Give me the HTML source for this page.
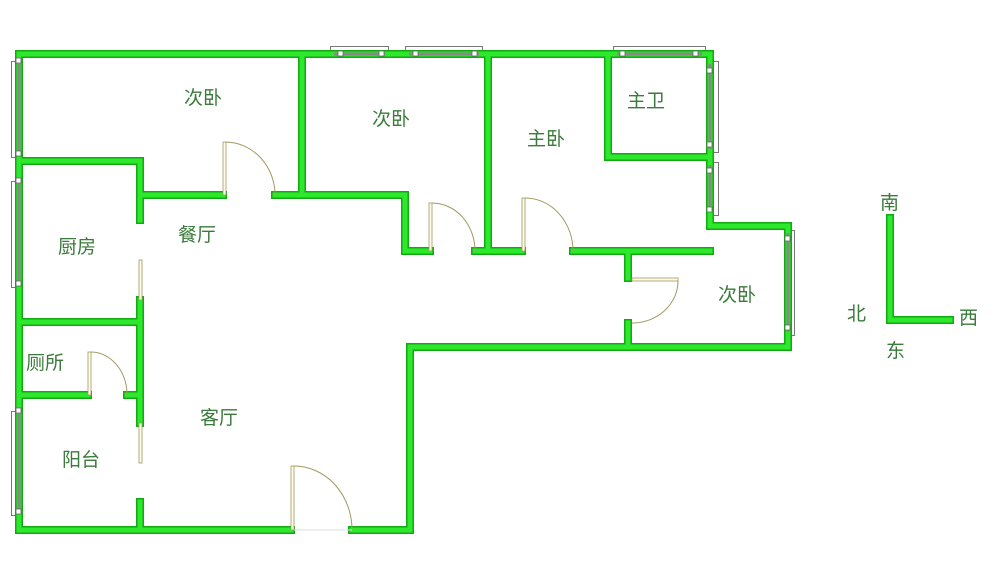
<!DOCTYPE html>
<html><head><meta charset="utf-8"><style>
html,body{margin:0;padding:0;background:#fff;}
svg{display:block;}
text{font-family:"Liberation Sans","Noto Sans CJK SC",sans-serif;font-size:19px;fill:#3a7a3a;}
</style></head><body>
<svg width="1000" height="562" viewBox="0 0 1000 562" xmlns="http://www.w3.org/2000/svg">
<g fill="none" stroke="#777" stroke-width="1">
<rect x="11.5" y="61.5" width="6" height="96"/>
<rect x="11.5" y="181.5" width="6" height="106"/>
<rect x="11.5" y="411.5" width="6" height="104"/>
<rect x="330.5" y="46.5" width="58" height="7"/>
<rect x="405.5" y="46.5" width="77" height="7"/>
<rect x="613.5" y="46.5" width="92" height="7"/>
<rect x="712.5" y="61.5" width="6" height="91"/>
<rect x="712.5" y="162.5" width="6" height="53"/>
<rect x="788.5" y="230.5" width="6" height="105"/>
</g>
<path d="M19,54 H710 V226 H788 V347 H410 V530 H352 M291,530 H19 V54
M302,54 V195 M140,161 V220 M140,161 H19 M140,195 H223 M275,195 H405 V251 H430 M475,251 H522 M488,54 V251 M573,251 H710
M608,54 V157 H710 M628,251 V278 M628,323 V347
M19,322 H140 M140,300 V423 M19,395 H88 M127,395 H140 M140,502 V530
M890,218 V320 H950" stroke="#1a1" stroke-width="8" fill="none" stroke-linecap="square"/>
<path d="M19,54 H710 V226 H788 V347 H410 V530 H352 M291,530 H19 V54
M302,54 V195 M140,161 V220 M140,161 H19 M140,195 H223 M275,195 H405 V251 H430 M475,251 H522 M488,54 V251 M573,251 H710
M608,54 V157 H710 M628,251 V278 M628,323 V347
M19,322 H140 M140,300 V423 M19,395 H88 M127,395 H140 M140,502 V530
M890,218 V320 H950" stroke="#2de82d" stroke-width="5" fill="none" stroke-linecap="square"/>
<g stroke="#888" stroke-width="3">
<line x1="19" y1="64" x2="19" y2="154"/>
<line x1="19" y1="184" x2="19" y2="284"/>
<line x1="19" y1="414" x2="19" y2="512"/>
<line x1="334" y1="54" x2="385" y2="54"/>
<line x1="409" y1="54" x2="479" y2="54"/>
<line x1="617" y1="54" x2="702" y2="54"/>
<line x1="710" y1="64" x2="710" y2="149"/>
<line x1="710" y1="165" x2="710" y2="212"/>
<line x1="788" y1="233" x2="788" y2="332"/>
</g>
<g fill="#fff" stroke="#666" stroke-width="0.8">
<rect x="16" y="58" width="5" height="5"/><rect x="16" y="151" width="5" height="5"/>
<rect x="16" y="178" width="5" height="5"/><rect x="16" y="281" width="5" height="5"/>
<rect x="16" y="408" width="5" height="5"/><rect x="16" y="509" width="5" height="5"/>
<rect x="338" y="51" width="5" height="5"/><rect x="379" y="51" width="5" height="5"/>
<rect x="413" y="51" width="5" height="5"/><rect x="472" y="51" width="5" height="5"/>
<rect x="620" y="51" width="5" height="5"/><rect x="693" y="51" width="5" height="5"/>
<rect x="707" y="68" width="5" height="5"/><rect x="707" y="142" width="5" height="5"/>
<rect x="707" y="168" width="5" height="5"/><rect x="707" y="207" width="5" height="5"/>
<rect x="785" y="236" width="5" height="5"/><rect x="785" y="325" width="5" height="5"/>
</g>
<g fill="#fffbe8" stroke="#a09a60" stroke-width="0.8">
<rect x="223" y="142" width="3" height="53"/>
<rect x="429" y="203" width="3" height="48"/>
<rect x="522" y="198" width="3" height="53"/>
<rect x="632" y="278" width="46" height="3"/>
<rect x="88" y="352" width="3" height="43"/>
<rect x="291" y="466" width="3" height="64"/>
<rect x="139" y="260" width="3" height="40"/>
<rect x="139" y="423" width="3" height="40"/>
</g>
<g fill="none" stroke="#a09a60" stroke-width="1">
<path d="M226,142 A50,53 0 0 1 275,195"/>
<path d="M432,203 A43,48 0 0 1 475,251"/>
<path d="M525,198 A48,53 0 0 1 573,251"/>
<path d="M678,281 A46,42 0 0 1 632,323"/>
<path d="M91,352 A36,43 0 0 1 127,395"/>
<path d="M294,466 A58,64 0 0 1 352,530"/>
<line x1="294" y1="530" x2="352" y2="530" stroke="#ddd"/>
</g>
<text x="184" y="104">次卧</text>
<text x="372" y="125">次卧</text>
<text x="527" y="145">主卧</text>
<text x="627" y="107">主卫</text>
<text x="718" y="301">次卧</text>
<text x="178" y="241">餐厅</text>
<text x="58" y="253">厨房</text>
<text x="26" y="369">厕所</text>
<text x="200" y="424">客厅</text>
<text x="62" y="466">阳台</text>
<text x="880" y="209">南</text>
<text x="847" y="320">北</text>
<text x="959" y="324">西</text>
<text x="886" y="357">东</text>
</svg>
</body></html>
